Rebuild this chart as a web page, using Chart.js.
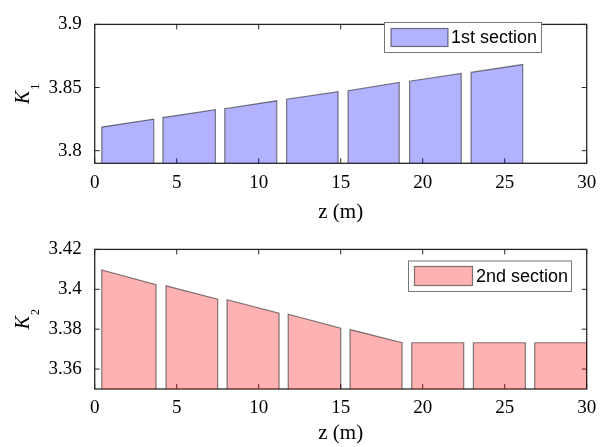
<!DOCTYPE html>
<html>
<head>
<meta charset="utf-8">
<script src="https://cdn.jsdelivr.net/npm/chart.js@4.4.1/dist/chart.umd.min.js"></script>
<style>
  html, body { margin: 0; padding: 0; background: #fff; }
  #wrap { position: relative; width: 613px; height: 447px; overflow: hidden; }
  canvas { position: absolute; left: 0; }
  #c1 { top: 0; }
  #c2 { top: 225px; }
</style>
</head>
<body>
<div id="wrap">
  <canvas id="c1" width="613" height="225"></canvas>
  <canvas id="c2" width="613" height="221"></canvas>
</div>
<script>
// shared x axis
const zTicks = [0, 5, 10, 15, 20, 25, 30];

// 1st section: segment edges along z and K1 at each end of a segment
const z1Start = [0.43, 4.16, 7.93, 11.7, 15.45, 19.2, 22.95];
const z1End = [3.6, 7.36, 11.1, 14.84, 18.57, 22.35, 26.1];
const k1Left = [3.8187, 3.8262, 3.8332, 3.8407, 3.8475, 3.855, 3.862];
const k1Right = [3.825, 3.8325, 3.8395, 3.8467, 3.854, 3.8612, 3.8682];
const k1Ticks = [3.8, 3.85, 3.9];
const k1Range = [3.79, 3.9];

// 2nd section
const z2Start = [0.43, 4.35, 8.07, 11.8, 15.57, 19.33, 23.09, 26.83];
const z2End = [3.74, 7.5, 11.24, 15.0, 18.74, 22.5, 26.26, 30];
const k2Left = [3.4097, 3.4017, 3.3948, 3.3875, 3.3798, 3.3732, 3.3732, 3.3732];
const k2Right = [3.4023, 3.395, 3.388, 3.3805, 3.3732, 3.3732, 3.3732, 3.3732];
const k2Ticks = [3.36, 3.38, 3.4, 3.42];
const k2Range = [3.35, 3.42];

const axisCol = '#262626';
const edgeCol = 'rgba(0,0,0,0.5)';

// one filled trapezoid per segment
function sectionSets(starts, ends, left, right, base, fill) {
  return starts.map((s, i) => ({
    data: [{x: s, y: base}, {x: s, y: left[i]}, {x: ends[i], y: right[i]}, {x: ends[i], y: base}],
    fill: 'start',
    backgroundColor: fill,
    borderColor: edgeCol,
    borderWidth: 1.2,
    pointRadius: 0,
    tension: 0
  }));
}

// box, inward ticks, rotated y label with subscript, framed legend
const matBox = {
  id: 'matBox',
  beforeDatasetsDraw(chart, args, opts) {
    const {ctx, chartArea: a, scales: {x, y}} = chart;
    ctx.save();
    ctx.strokeStyle = axisCol;
    ctx.lineWidth = 1;
    ctx.beginPath();
    x.ticks.forEach(t => {
      const px = x.getPixelForValue(t.value);
      ctx.moveTo(px, a.bottom); ctx.lineTo(px, a.bottom - 5);
      ctx.moveTo(px, a.top); ctx.lineTo(px, a.top + 5);
    });
    y.ticks.forEach(t => {
      const py = y.getPixelForValue(t.value);
      ctx.moveTo(a.left, py); ctx.lineTo(a.left + 5, py);
      ctx.moveTo(a.right, py); ctx.lineTo(a.right - 5, py);
    });
    ctx.stroke();
    ctx.lineWidth = 1.3;
    ctx.strokeRect(a.left, a.top, a.width, a.height);
    ctx.restore();
  },
  afterDraw(chart, args, opts) {
    const {ctx, chartArea: a} = chart;
    ctx.save();
    // y label
    const cy = (a.top + a.bottom) / 2;
    ctx.translate(opts.labelX, cy);
    ctx.rotate(-Math.PI / 2);
    ctx.fillStyle = '#000';
    ctx.textBaseline = 'alphabetic';
    ctx.font = 'italic 20px "Liberation Serif"';
    const wK = ctx.measureText(opts.main).width;
    ctx.font = '12px "Liberation Serif"';
    const wS = ctx.measureText(opts.sub).width;
    const x0 = -(wK + wS + 1) / 2;
    ctx.font = 'italic 20px "Liberation Serif"';
    ctx.fillText(opts.main, x0, 0);
    ctx.font = '12px "Liberation Serif"';
    ctx.fillText(opts.sub, x0 + wK + 1, 10);
    ctx.restore();

    // legend
    const L = opts.legend;
    ctx.save();
    ctx.fillStyle = '#fff';
    ctx.fillRect(L.x, L.y, L.w, L.h);
    ctx.strokeStyle = '#777';
    ctx.lineWidth = 1;
    ctx.strokeRect(L.x, L.y, L.w, L.h);
    ctx.fillStyle = L.fill;
    ctx.fillRect(L.sx, L.sy, L.sw, L.sh);
    ctx.strokeStyle = edgeCol;
    ctx.lineWidth = 1.2;
    ctx.strokeRect(L.sx, L.sy, L.sw, L.sh);
    ctx.fillStyle = '#000';
    ctx.font = '18px "Liberation Sans"';
    ctx.textBaseline = 'middle';
    ctx.fillText(L.text, L.tx, L.sy + L.sh / 2 + 1);
    ctx.restore();
  }
};

function makeChart(id, cfg) {
  return new Chart(document.getElementById(id), {
    type: 'line',
    data: {datasets: sectionSets(cfg.starts, cfg.ends, cfg.left, cfg.right, cfg.range[0], cfg.fill)},
    plugins: [matBox],
    options: {
      responsive: false,
      animation: false,
      devicePixelRatio: 1,
      layout: {padding: {left: 0, right: 26.3, top: cfg.padTop, bottom: 0}},
      plugins: {
        legend: {display: false},
        tooltip: {enabled: false},
        matBox: {labelX: 29.3, main: 'K', sub: cfg.sub, legend: cfg.legend}
      },
      scales: {
        x: {
          type: 'linear',
          min: 0,
          max: 30,
          afterBuildTicks: s => { s.ticks = zTicks.map(v => ({value: v})); },
          afterFit: s => { s.height = cfg.xHeight; },
          grid: {display: false, drawTicks: false},
          border: {display: false},
          ticks: {color: '#000', padding: 8, maxRotation: 0, font: {family: 'Liberation Serif', size: 19}, callback: v => String(v)},
          title: {display: true, text: 'z (m)', color: '#000', padding: {top: 0, bottom: 0}, font: {family: 'Liberation Serif', size: 21}}
        },
        y: {
          min: cfg.range[0],
          max: cfg.range[1],
          afterBuildTicks: s => { s.ticks = cfg.ticks.map(v => ({value: v})); },
          afterFit: s => { s.width = 94.7; },
          grid: {display: false, drawTicks: false},
          border: {display: false},
          ticks: {color: '#000', padding: 13, font: {family: 'Liberation Serif', size: 19}, callback: v => String(v)}
        }
      }
    }
  });
}

makeChart('c1', {
  starts: z1Start, ends: z1End, left: k1Left, right: k1Right,
  range: k1Range, ticks: k1Ticks, fill: 'rgba(0,0,255,0.3)', sub: '1',
  padTop: 19.3, xHeight: 61.7,
  legend: {x: 384.5, y: 22.5, w: 157, h: 30, sx: 391, sy: 28.5, sw: 57, sh: 18, tx: 451, text: '1st section', fill: 'rgba(0,0,255,0.3)'}
});

makeChart('c2', {
  starts: z2Start, ends: z2End, left: k2Left, right: k2Right,
  range: k2Range, ticks: k2Ticks, fill: 'rgba(255,0,0,0.3)', sub: '2',
  padTop: 24, xHeight: 57,
  legend: {x: 408.5, y: 36, w: 163, h: 30.5, sx: 414.5, sy: 41.5, sw: 58, sh: 19, tx: 476, text: '2nd section', fill: 'rgba(255,0,0,0.3)'}
});
</script>
</body>
</html>
